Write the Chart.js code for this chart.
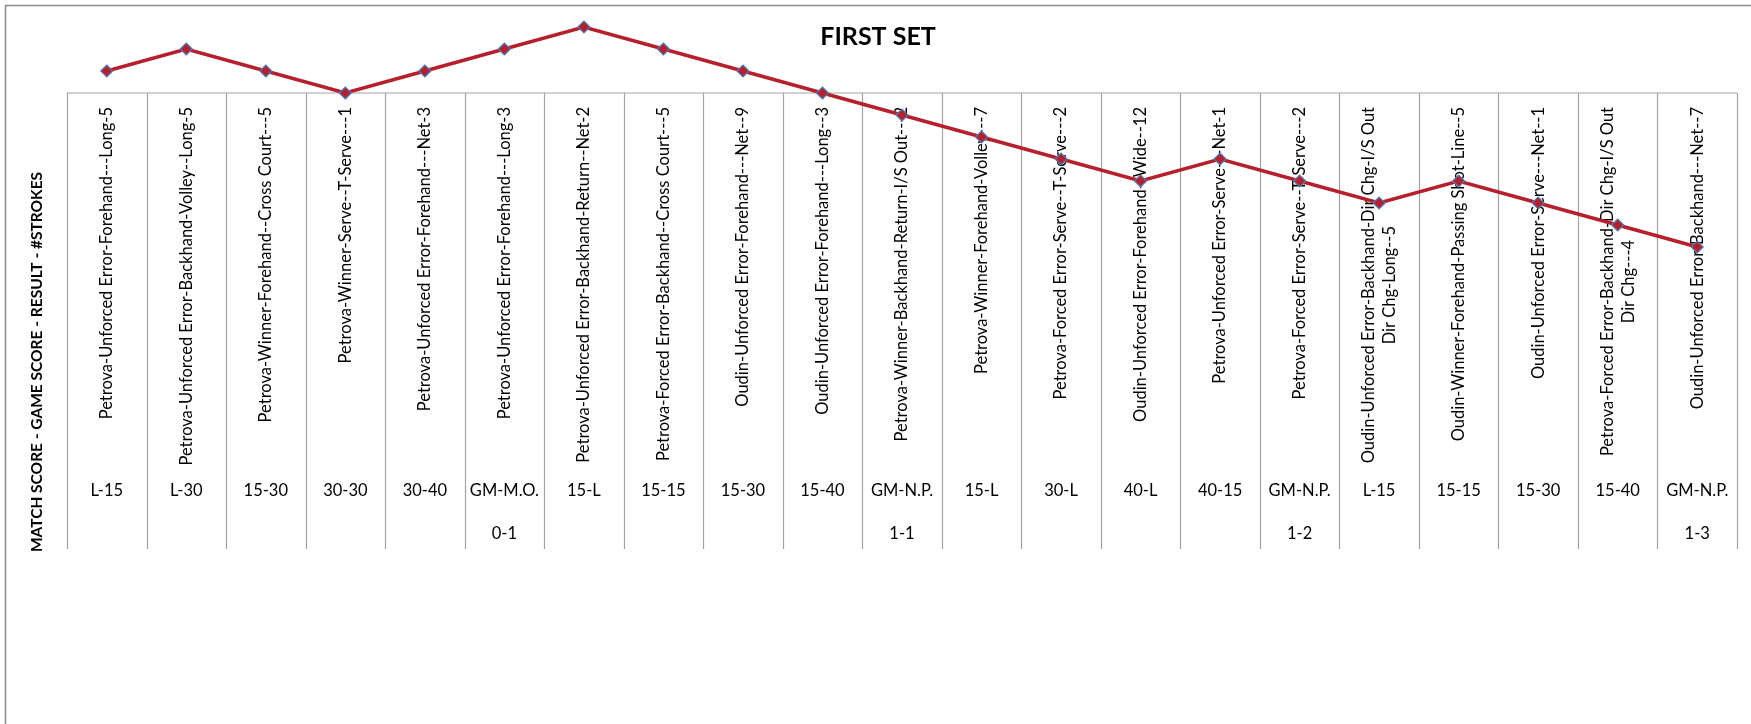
<!DOCTYPE html>
<html>
<head>
<meta charset="utf-8">
<script src="https://cdn.jsdelivr.net/npm/chart.js@4.4.1/dist/chart.umd.min.js"></script>
<style>
  body { margin: 0; background: #fff; }
</style>
</head>
<body>
<canvas id="myChart" width="1751" height="724"></canvas>
<script>
// one entry per point: rally description (lines), point score, game score
const points = [
    ['Petrova-Unforced Error-Forehand---Long-5'],
    ['Petrova-Unforced Error-Backhand-Volley--Long-5'],
    ['Petrova-Winner-Forehand--Cross Court---5'],
    ['Petrova-Winner-Serve--T-Serve---1'],
    ['Petrova-Unforced Error-Forehand---Net-3'],
    ['Petrova-Unforced Error-Forehand---Long-3'],
    ['Petrova-Unforced Error-Backhand-Return--Net-2'],
    ['Petrova-Forced Error-Backhand--Cross Court---5'],
    ['Oudin-Unforced Error-Forehand---Net--9'],
    ['Oudin-Unforced Error-Forehand---Long--3'],
    ['Petrova-Winner-Backhand-Return-I/S Out---2'],
    ['Petrova-Winner-Forehand-Volley---7'],
    ['Petrova-Forced Error-Serve--T-Serve---2'],
    ['Oudin-Unforced Error-Forehand--Wide--12'],
    ['Petrova-Unforced Error-Serve---Net-1'],
    ['Petrova-Forced Error-Serve--T-Serve---2'],
    ['Oudin-Unforced Error-Backhand-Dir Chg-I/S Out', 'Dir Chg-Long--5'],
    ['Oudin-Winner-Forehand-Passing Shot-Line--5'],
    ['Oudin-Unforced Error-Serve---Net--1'],
    ['Petrova-Forced Error-Backhand-Dir Chg-I/S Out', 'Dir Chg---4'],
    ['Oudin-Unforced Error-Backhand---Net--7']
]
const gameScores = ['L-15','L-30','15-30','30-30','30-40','GM-M.O.','15-L','15-15','15-30','15-40',
    'GM-N.P.','15-L','30-L','40-L','40-15','GM-N.P.','L-15','15-15','15-30','15-40','GM-N.P.']
const matchScores = ['','','','','','0-1','','','','','1-1','','','','','1-2','','','','','1-3']
const lead = [1, 2, 1, 0, 1, 2, 3, 2, 1, 0, -1, -2, -3, -4, -3, -4, -5, -4, -5, -6, -7]

const FONT = 'Lato, "Liberation Sans", sans-serif'

// excel style category table hanging under the zero line
const tablePlugin = {
    id: 'tablePlugin',
    beforeDatasetsDraw(chart) {
        const ctx = chart.ctx
        const x = chart.scales.x
        const y0 = chart.scales.y.getPixelForValue(0)
        const left = chart.chartArea.left, right = chart.chartArea.right
        const step = (right - left) / points.length
        const bottom = y0 + 456

        ctx.save()
        // outer chart border (runs off the right and bottom of the picture)
        ctx.strokeStyle = '#8a8a8a'
        ctx.lineWidth = 1.5
        ctx.beginPath()
        ctx.moveTo(5.5, 724)
        ctx.lineTo(5.5, 5.5)
        ctx.lineTo(1751, 5.5)
        ctx.stroke()

        // grid
        ctx.strokeStyle = '#a3a3a3'
        ctx.lineWidth = 1.2
        ctx.beginPath()
        ctx.moveTo(left, y0)
        ctx.lineTo(right, y0)
        for (let i = 0; i <= points.length; i++) {
            const gx = Math.round(left + i * step) + 0.5
            ctx.moveTo(gx, y0)
            ctx.lineTo(gx, bottom)
        }
        ctx.stroke()

        ctx.fillStyle = '#000'
        ctx.font = '16.5px ' + FONT
        points.forEach((lines, i) => {
            const cx = x.getPixelForValue(i)
            const widths = lines.map(l => ctx.measureText(l).width)
            const block = Math.max(...widths)
            const lh = 21
            ctx.save()
            ctx.translate(cx, y0 + 14)
            ctx.rotate(-Math.PI / 2)
            ctx.textBaseline = 'middle'
            ctx.textAlign = 'center'
            lines.forEach((l, j) => {
                const off = (j - (lines.length - 1) / 2) * lh
                ctx.fillText(l, -block / 2, off)
            })
            ctx.restore()

            ctx.textAlign = 'center'
            ctx.textBaseline = 'middle'
            ctx.fillText(gameScores[i], cx, y0 + 398)
            if (matchScores[i]) ctx.fillText(matchScores[i], cx, y0 + 441)
        })

        // titles
        ctx.font = 'bold 25px ' + FONT
        ctx.textAlign = 'center'
        ctx.textBaseline = 'middle'
        ctx.fillText('FIRST SET', 878, 37)

        ctx.save()
        ctx.translate(37, 362)
        ctx.rotate(-Math.PI / 2)
        ctx.font = 'bold 15.5px ' + FONT
        ctx.fillText('MATCH SCORE - GAME SCORE - RESULT - #STROKES', 0, 0)
        ctx.restore()
        ctx.restore()
    }
}

const ctx = document.getElementById('myChart').getContext('2d')
const myChart = new Chart(ctx, {
    type: 'line',
    data: {
        labels: points.map(p => p.join(' ')),
        datasets: [{
            label: 'First set',
            data: lead,
            borderColor: '#b5202c',
            borderWidth: 3.5,
            tension: 0,
            pointStyle: 'rectRot',
            pointRadius: 6,
            pointBackgroundColor: '#b5202c',
            pointBorderColor: '#4a7ebb',
            pointBorderWidth: 1.2
        }]
    },
    options: {
        responsive: false,
        animation: false,
        layout: { padding: { left: 67, right: 14, top: 16, bottom: 455 } },
        plugins: {
            legend: { display: false },
            tooltip: { enabled: false }
        },
        scales: {
            x: { display: false, offset: true },
            y: { display: false, min: -8, max: 3.5 }
        }
    },
    plugins: [tablePlugin]
})
</script>
</body>
</html>
